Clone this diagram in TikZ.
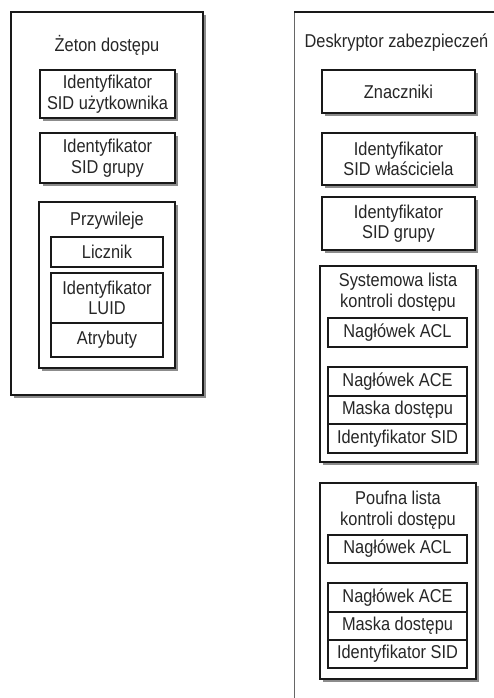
\documentclass[tikz,border=0pt]{standalone}
\usepackage{fontspec}
\setmainfont{Liberation Sans}[FakeStretch=0.88]
\usetikzlibrary{shadows}
\tikzset{
  box/.style={draw=black!90, line width=1.3pt, fill=white, inner sep=0pt, align=center,
    text=black!85, font=\fontsize{18.6}{20.5}\selectfont},
  sbox/.style={box, drop shadow={shadow xshift=3pt, shadow yshift=-3pt, fill=black!45, opacity=1}},
  lbl/.style={inner sep=0pt, align=center, text=black!85, font=\fontsize{18.6}{20.5}\selectfont},
}
\begin{document}
\begin{tikzpicture}[x=1pt,y=-1pt]
\clip (0,0) rectangle (494,698);
\fill[white] (0,0) rectangle (494,698);
% ---- left: access token
\node[sbox, minimum width=192pt, minimum height=383pt] (outerL) at (107,203.5) {};
\node[lbl] (titleL) at (107,45) {Żeton dostępu};
\node[sbox, minimum width=135pt, minimum height=48pt] (sidU) at (107.5,94) {Identyfikator\\SID użytkownika};
\node[sbox, minimum width=135pt, minimum height=50pt] (sidG) at (107.5,158) {Identyfikator\\SID grupy};
\node[sbox, minimum width=136pt, minimum height=166pt] (priv) at (107,285) {};
\node[lbl] (privT) at (107,221) {Przywileje};
\node[box, minimum width=112pt, minimum height=30pt] (licz) at (107,252) {Licznik};
\node[box, minimum width=112pt, minimum height=50pt] (luid) at (107,298) {Identyfikator\\LUID};
\node[box, minimum width=112pt, minimum height=34pt] (attr) at (107,340) {Atrybuty};
% ---- right: security descriptor
\node[sbox, draw=black!60, minimum width=240pt, minimum height=720pt, anchor=north west] (outerR) at (294,12) {};
\draw[black!90, line width=1.3pt] (outerR.north west) -- (outerR.north east);
\node[lbl] (titleR) at (396.5,43) {Deskryptor zabezpieczeń};
\node[sbox, minimum width=153pt, minimum height=43pt] (znacz) at (398.5,91.5) {Znaczniki};
\node[sbox, minimum width=153pt, minimum height=52pt] (sidW) at (398.5,159) {Identyfikator\\SID właściciela};
\node[sbox, minimum width=153pt, minimum height=53pt] (sidG2) at (398.5,223.5) {Identyfikator\\SID grupy};
% system ACL
\node[sbox, minimum width=156pt, minimum height=196pt] (sys) at (398,364) {};
\node[lbl] (sysT) at (398,292) {Systemowa lista\\kontroli dostępu};
\node[box, minimum width=139pt, minimum height=29pt] (aclS) at (397.5,332.5) {Nagłówek ACL};
\node[box, minimum width=139pt, minimum height=29pt] (aceS) at (397.5,381.5) {Nagłówek ACE};
\node[box, minimum width=139pt, minimum height=28pt] (maskS) at (397.5,410) {Maska dostępu};
\node[box, minimum width=139pt, minimum height=29pt] (sidS) at (397.5,438.5) {Identyfikator SID};
% discretionary ACL
\node[sbox, minimum width=156pt, minimum height=196pt] (pouf) at (398,581) {};
\node[lbl] (poufT) at (398,510) {Poufna lista\\kontroli dostępu};
\node[box, minimum width=139pt, minimum height=28pt] (aclP) at (397.5,549) {Nagłówek ACL};
\node[box, minimum width=139pt, minimum height=29pt] (aceP) at (397.5,597.5) {Nagłówek ACE};
\node[box, minimum width=139pt, minimum height=28pt] (maskP) at (397.5,626) {Maska dostępu};
\node[box, minimum width=139pt, minimum height=28pt] (sidP) at (397.5,654) {Identyfikator SID};
\end{tikzpicture}
\end{document}
